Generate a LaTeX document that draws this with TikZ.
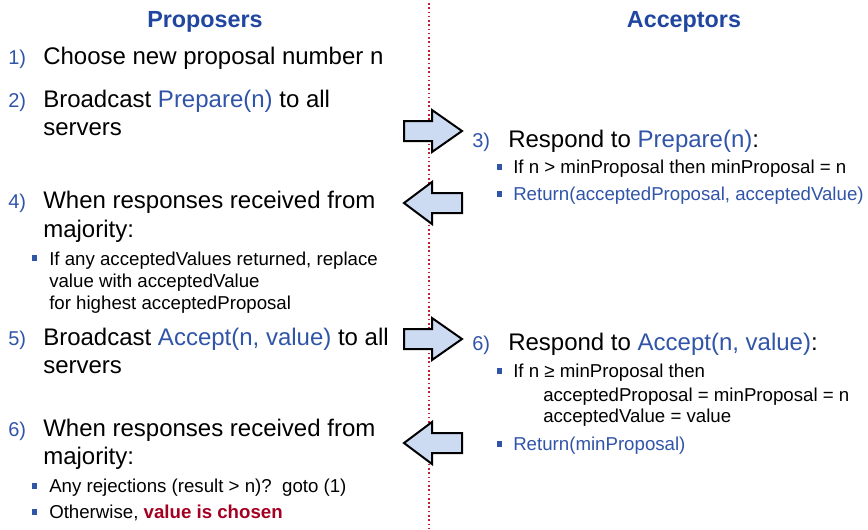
\documentclass[tikz,border=0pt]{standalone}
\usepackage{fontspec}
\setmainfont{Liberation Sans}
\definecolor{headblue}{RGB}{33,70,160}
\definecolor{linkblue}{RGB}{48,84,168}
\definecolor{chosenred}{RGB}{165,0,33}
\definecolor{arrowfill}{RGB}{204,218,242}
\definecolor{linered}{RGB}{200,30,50}
\tikzset{
    head/.style={font=\fontsize{17.5}{20}\selectfont\bfseries,text=headblue,anchor=base,inner sep=0},
    num/.style={font=\fontsize{15}{18}\selectfont,text=linkblue,anchor=base west,inner sep=0},
    big/.style={font=\fontsize{18}{22}\selectfont,anchor=base west,inner sep=0},
    small/.style={font=\fontsize{14}{17}\selectfont,anchor=base west,inner sep=0},
    bul/.style={fill=linkblue,rectangle,minimum size=4.2pt,inner sep=0},
    blockarrow/.style={draw=black,fill=arrowfill,line width=1.5pt,line join=miter},
    rightarr/.pic={\draw[blockarrow] (0,-10) -- (28,-10) -- (28,-21) -- (58,0) -- (28,21) -- (28,10) -- (0,10) -- cycle;},
    leftarr/.pic={\draw[blockarrow] (0,0) -- (28,-21) -- (28,-10) -- (58,-10) -- (58,10) -- (28,10) -- (28,21) -- cycle;}
}
\begin{document}
\begin{tikzpicture}[x=0.75pt,y=-0.75pt]
        \useasboundingbox (0,0) rectangle (868,529);
        % divider
        \draw[linered,dotted,line width=1.2pt] (429,3) -- (429,529);
        % headings
        \node[head] (hprop) at (205,27) {Proposers};
        \node[head] (hacc) at (684,27) {Acceptors};
        % proposer side
        \node[num] (n1) at (8,64) {1)};
        \node[big] (t1) at (43,64) {Choose new proposal number n};
        \node[num] (n2) at (8,107) {2)};
        \node[big] (t2a) at (43,107) {Broadcast \textcolor{linkblue}{Prepare(n)} to all};
        \node[big] (t2b) at (43,135) {servers};
        \node[num] (n4) at (8,208) {4)};
        \node[big] (t4a) at (43,208) {When responses received from};
        \node[big] (t4b) at (43,237) {majority:};
        \node[bul] (b4) at (34.5,258) {};
        \node[small] (s4a) at (49,265) {If any acceptedValues returned, replace};
        \node[small] (s4b) at (49,287) {value with acceptedValue};
        \node[small] (s4c) at (49,309) {for highest acceptedProposal};
        \node[num] (n5) at (8,345) {5)};
        \node[big] (t5a) at (43,345) {Broadcast \textcolor{linkblue}{Accept(n, value)} to all};
        \node[big] (t5b) at (43,373) {servers};
        \node[num] (n6) at (8,436) {6)};
        \node[big] (t6a) at (43,436) {When responses received from};
        \node[big] (t6b) at (43,464) {majority:};
        \node[bul] (b6a) at (34.5,486) {};
        \node[small] (s6a) at (49,492) {Any rejections (result > n)?\ \ goto (1)};
        \node[bul] (b6b) at (34.5,512) {};
        \node[small] (s6b) at (49,518) {Otherwise, \textcolor{chosenred}{\bfseries value is chosen}};
        % acceptor side
        \node[num] (n3) at (472,147) {3)};
        \node[big] (t3) at (508,147) {Respond to \textcolor{linkblue}{Prepare(n)}:};
        \node[bul] (b3a) at (499.5,167) {};
        \node[small] (s3a) at (513,173) {If n > minProposal then minProposal = n};
        \node[bul] (b3b) at (499.5,194) {};
        \node[small,text=linkblue] (s3b) at (513,200) {Return(acceptedProposal, acceptedValue)};
        \node[num] (n7) at (472,350) {6)};
        \node[big] (t7) at (508,350) {Respond to \textcolor{linkblue}{Accept(n, value)}:};
        \node[bul] (b7a) at (499.5,371) {};
        \node[small] (s7a) at (513,377) {If n ≥ minProposal then};
        \node[small] (s7b) at (543,401) {acceptedProposal = minProposal = n};
        \node[small] (s7c) at (543,422) {acceptedValue = value};
        \node[bul] (b7b) at (499.5,444) {};
        \node[small,text=linkblue] (s7d) at (513,450) {Return(minProposal)};
        % arrows
        \pic at (404,131) {rightarr};
        \pic at (404,203) {leftarr};
        \pic at (404,339) {rightarr};
        \pic at (404,443) {leftarr};
    \end{tikzpicture}
\end{document}
